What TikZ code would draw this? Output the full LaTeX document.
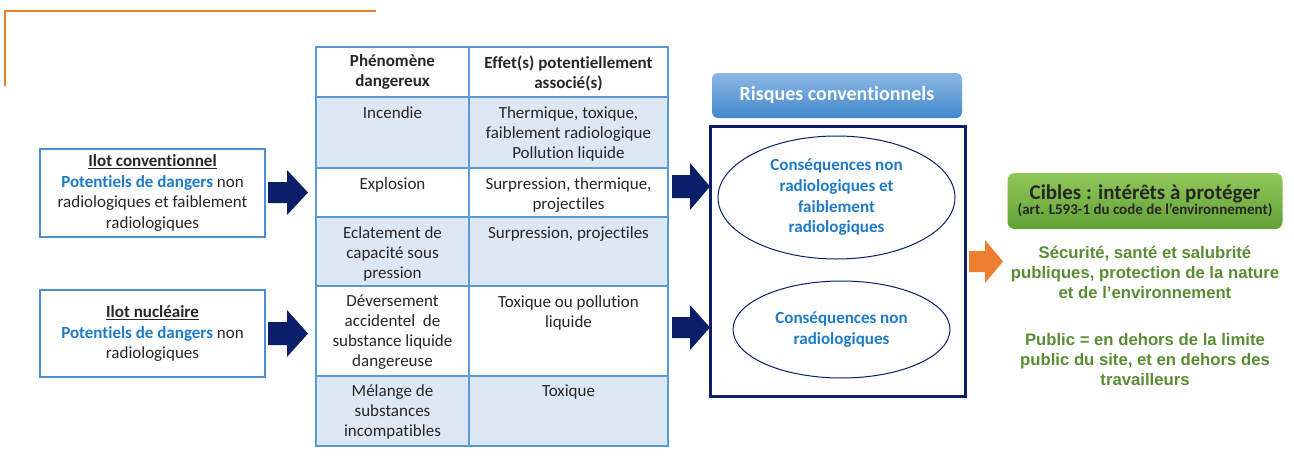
\documentclass[tikz,border=0pt]{standalone}
\usepackage{fontspec}
\setmainfont[Ligatures={NoCommon}]{Carlito}
\newfontfamily\arialfont{Liberation Sans}
\usetikzlibrary{shapes.geometric}
\definecolor{orangeL}{HTML}{ED7D31}
\definecolor{boxblue}{HTML}{4A8FD0}
\definecolor{txtblue}{HTML}{1F7AC8}
\definecolor{navy}{HTML}{0B1F68}
\definecolor{rowblue}{HTML}{DEE8F4}
\definecolor{tblline}{HTML}{5B9BD5}
\definecolor{txtdark}{HTML}{262626}
\definecolor{gtext}{HTML}{5A8C34}
\newcommand\myblockarrow[8]{%
  \fill[#1] (#2,#5) -- (#3,#5) -- (#3,#7) -- (#4,{(#7+#8)/2}) -- (#3,#8) -- (#3,#6) -- (#2,#6) -- cycle;}
\tikzset{
  every node/.style={text=txtdark},
  srcbox/.style={draw=boxblue, line width=1.3pt, minimum width=225pt, minimum height=88pt, align=center, inner sep=0pt, font=\fontsize{17}{20.8}\selectfont},
  cell/.style={anchor=north, align=center, inner sep=0pt, font=\fontsize{17}{20}\selectfont},
  conseq/.style={ellipse, draw=navy, line width=1pt, inner sep=0pt, align=center, text=txtblue, font=\bfseries\fontsize{17}{20.7}\selectfont},
  gtxt/.style={align=center, text=gtext, font=\arialfont\bfseries\fontsize{16.7}{20}\selectfont, inner sep=0pt}
}
\begin{document}
\begin{tikzpicture}[x=1pt,y=-1pt]
\useasboundingbox (0,0) rectangle (1294,469);
% orange L
\draw[orangeL, line width=2.3pt] (376,11) -- (5,11) -- (5,86);
% source boxes
\node[srcbox] (conv) at (152.5,193) {\textbf{\underline{Ilot conventionnel}}\\ \textcolor{txtblue}{\textbf{Potentiels de dangers}} non\\ radiologiques et faiblement\\ radiologiques};
\node[srcbox, minimum height=87pt] (nucl) at (152.5,333.5) {\textbf{\underline{Ilot nucléaire}}\\ \textcolor{txtblue}{\textbf{Potentiels de dangers}} non\\ radiologiques};
% arrows left
\myblockarrow{navy}{268}{287}{308}{182}{203}{170}{215}
\myblockarrow{navy}{268}{287}{308}{322}{345}{310}{357}
% table
\fill[rowblue] (316,97) rectangle (668,168);
\fill[rowblue] (316,217) rectangle (668,286);
\fill[rowblue] (316,376) rectangle (668,446);
\draw[tblline, line width=1.5pt] (316,47) rectangle (668,446);
\foreach \yy in {97,168,217,286,376} \draw[tblline, line width=1.5pt] (316,\yy) -- (668,\yy);
\draw[tblline, line width=1.5pt] (469,47) -- (469,446);
\node[cell, font=\bfseries\fontsize{17}{20}\selectfont] (h1) at (392.5,54) {Phénomène\\ dangereux};
\node[cell, font=\bfseries\fontsize{17}{20}\selectfont] (h2) at (568.5,56) {Effet(s) potentiellement\\ associé(s)};
\node[cell] (p1) at (392.5,106) {Incendie};
\node[cell] (e1) at (568.5,106) {Thermique, toxique,\\ faiblement radiologique\\ Pollution liquide};
\node[cell] (p2) at (392.5,177) {Explosion};
\node[cell] (e2) at (568.5,177) {Surpression, thermique,\\ projectiles};
\node[cell] (p3) at (392.5,226) {Eclatement de\\ capacité sous\\ pression};
\node[cell] (e3) at (568.5,226) {Surpression, projectiles};
\node[cell] (p4) at (392.5,295) {Déversement\\ accidentel\ \ de\\ substance liquide\\ dangereuse};
\node[cell] (e4) at (568.5,295) {Toxique ou pollution\\ liquide};
\node[cell] (p5) at (392.5,384) {Mélange de\\ substances\\ incompatibles};
\node[cell] (e5) at (568.5,385) {Toxique};
% middle arrows
\myblockarrow{navy}{672}{690}{710}{175}{198}{163}{210}
\myblockarrow{navy}{672}{690}{710}{317}{338}{305}{350}
% risques header
\node[rounded corners=6pt, minimum width=250pt, minimum height=45pt, inner sep=0pt,
  top color={rgb,255:red,141;green,183;blue,228}, bottom color={rgb,255:red,64;green,137;blue,206},
  text=white, font=\bfseries\fontsize{20}{22}\selectfont] (risq) at (837,95.5) {Risques conventionnels};
\draw[navy, line width=3pt] (710,126) rectangle (965,396);
\node[conseq, minimum width=237pt, minimum height=123pt] (c1) at (836.5,197.5) {Conséquences non\\ radiologiques et\\ faiblement\\ radiologiques};
\node[conseq, minimum width=217pt, minimum height=97pt] (c2) at (841.5,329.5) {Conséquences non\\ radiologiques};
% orange arrow
\myblockarrow{orangeL}{969}{985}{1003}{251}{272}{240}{283}
% cibles
\node[rounded corners=7pt, minimum width=275pt, minimum height=56pt, inner sep=0pt, align=center,
  top color={rgb,255:red,146;green,200;blue,90}, bottom color={rgb,255:red,96;green,160;blue,52}] (cib) at (1145,201)
  {\textbf{\fontsize{21}{22}\selectfont Cibles : intérêts à protéger}\\[-1pt] \textbf{\fontsize{15}{16}\selectfont (art. L593-1 du code de l’environnement)}};
\node[gtxt] (secu) at (1145,272) {Sécurité, santé et salubrité\\ publiques, protection de la nature\\ et de l’environnement};
\node[gtxt] (pub) at (1145,360) {Public = en dehors de la limite\\ public du site, et en dehors des\\ travailleurs};
\end{tikzpicture}
\end{document}
